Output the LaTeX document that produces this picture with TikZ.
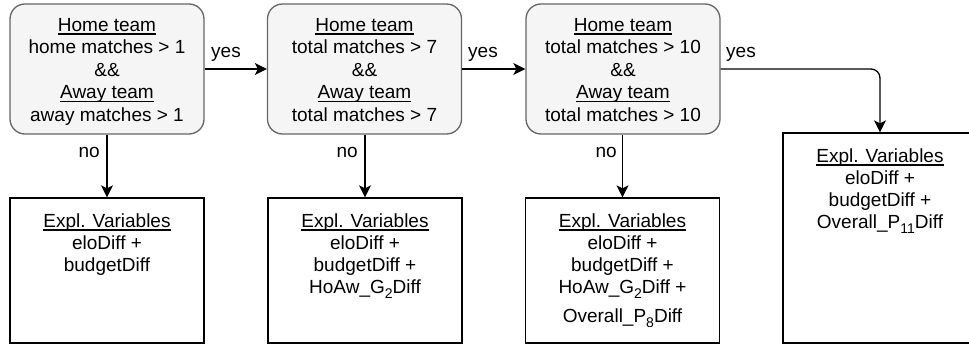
\documentclass[tikz,border=0pt]{standalone}
\usepackage{fontspec}
\setmainfont{Liberation Sans}
\usetikzlibrary{arrows.meta}
\newcommand{\myul}[1]{\setbox0\hbox{#1}\rlap{\raisebox{-3.4pt}{\rule{\wd0}{1.3pt}}}\box0}
\newcommand{\mysubx}[1]{\raisebox{-5pt}{\fontsize{14pt}{14pt}\selectfont #1}}
\newcommand{\fst}{\rule{0pt}{14pt}}
\definecolor{decfill}{HTML}{F5F5F5}
\definecolor{decline}{HTML}{666666}
\begin{document}
\begin{tikzpicture}[x=1pt,y=-1pt,
  every node/.style={font=\fontsize{19pt}{22.5pt}\selectfont},
  dec/.style={draw=decline, fill=decfill, line width=1.3pt, rounded corners=15pt,
    minimum width=194pt, minimum height=130pt, inner sep=0pt},
  res/.style={draw=black, fill=white, line width=1.3pt,
    minimum width=194pt, inner sep=0pt},
  txt/.style={align=center, anchor=north, inner sep=0pt},
  rtxt/.style={align=center, anchor=north, inner sep=0pt, font=\fontsize{19pt}{22pt}\selectfont},
  lbl/.style={inner sep=0pt},
  arr/.style={line width=1.3pt, -{Stealth[length=12pt,width=12pt,inset=3pt]}}]
\clip (0,0) rectangle (969,345);
\fill[white] (0,0) rectangle (969,345);
% decision boxes
\node[dec] (d1) at (107,69) {};
\node[dec] (d2) at (364.5,69) {};
\node[dec] (d3) at (623,69) {};
\node[txt] (t1) at (107,17) {\fst\myul{Home team}\\home matches > 1\\\&\&\\\myul{Away team}\\away matches > 1};
\node[txt] (t2) at (364.5,17) {\fst\myul{Home team}\\total matches > 7\\\&\&\\\myul{Away team}\\total matches > 7};
\node[txt] (t3) at (623,17) {\fst\myul{Home team}\\total matches > 10\\\&\&\\\myul{Away team}\\total matches > 10};
% result boxes
\node[res, minimum height=145pt] (e1) at (107,270.5) {};
\node[res, minimum height=145pt] (e2) at (365,270.5) {};
\node[res, minimum height=145pt] (e3) at (622.5,270.5) {};
\node[res, minimum height=210pt] (e4) at (880,238) {};
\node[rtxt] (r1) at (107,213) {\fst\myul{Expl. Variables}\\eloDiff +\\budgetDiff};
\node[rtxt] (r2) at (365,213) {\fst\myul{Expl. Variables}\\eloDiff +\\budgetDiff +\\HoAw\_G\mysubx{2}Diff};
\node[rtxt] (r3) at (622.5,213) {\fst\myul{Expl. Variables}\\eloDiff +\\budgetDiff +\\HoAw\_G\mysubx{2}Diff +\\[7pt]Overall\_P\mysubx{8}Diff};
\node[rtxt] (r4) at (880,148) {\fst\myul{Expl. Variables}\\eloDiff +\\budgetDiff +\\Overall\_P\mysubx{11}Diff};
% connectors
\draw[arr] (d1.east) -- (d2.west);
\draw[arr] (d2.east) -- (d3.west);
\draw[arr, rounded corners=9pt] (d3.east) -- (d3.east -| e4.north) -- (e4.north);
\draw[arr] (d1.south) -- (e1.north);
\draw[arr] (d2.south -| e2.north) -- (e2.north);
\draw[arr] (d3.south -| e3.north) -- (e3.north);
% labels
\node[lbl, anchor=base west] (y1) at (211,57.5) {yes};
\node[lbl, anchor=base west] (y2) at (468,57.5) {yes};
\node[lbl, anchor=base west] (y3) at (726,57.5) {yes};
\node[lbl, anchor=base east] (n1) at (100,157) {no};
\node[lbl, anchor=base east] (n2) at (358,157) {no};
\node[lbl, anchor=base east] (n3) at (617,157) {no};
\end{tikzpicture}
\end{document}
